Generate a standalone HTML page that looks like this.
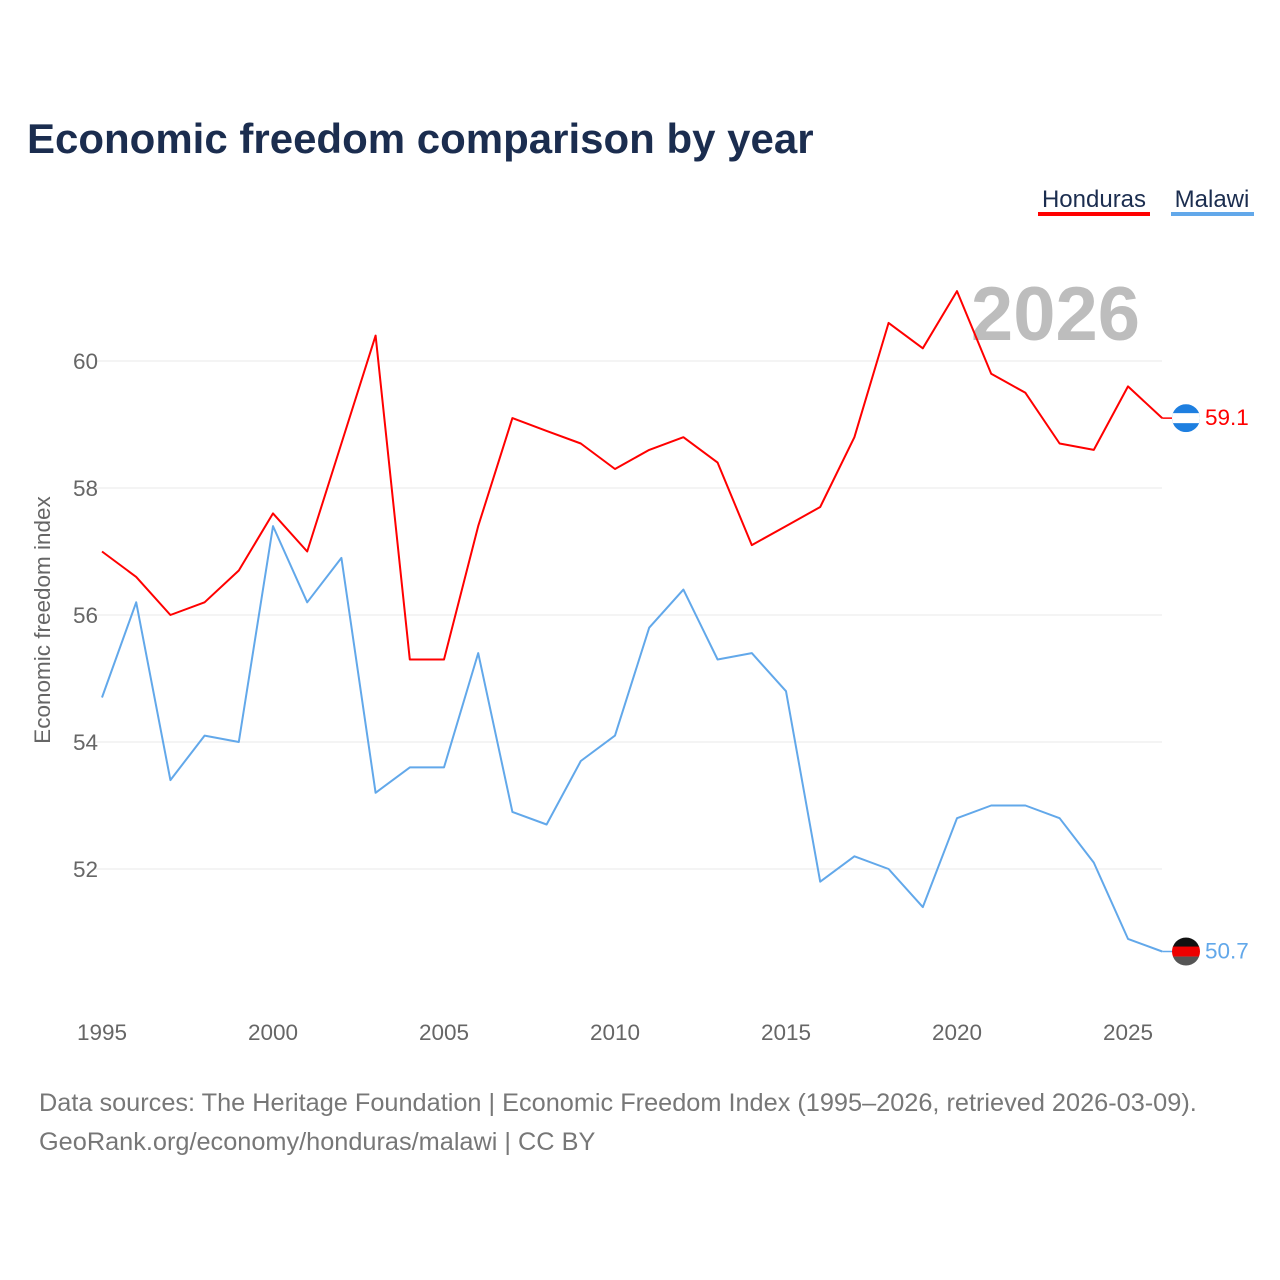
<!DOCTYPE html>
<html><head><meta charset="utf-8">
<style>
body{margin:0;background:#fff;font-family:"Liberation Sans",sans-serif;}
#wrap{position:relative;width:1280px;height:1280px;overflow:hidden;background:#fff}
</style></head><body>
<div id="wrap">
<svg id="chart" width="1280" height="1280"></svg>
</div>
<script>
const years=[1995,1996,1997,1998,1999,2000,2001,2002,2003,2004,2005,2006,2007,2008,2009,2010,2011,2012,2013,2014,2015,2016,2017,2018,2019,2020,2021,2022,2023,2024,2025,2026];
const honduras=[57.0,56.6,56.0,56.2,56.7,57.6,57.0,58.7,60.4,55.3,55.3,57.4,59.1,58.9,58.7,58.3,58.6,58.8,58.4,57.1,57.4,57.7,58.8,60.6,60.2,61.1,59.8,59.5,58.7,58.6,59.6,59.1];
const malawi=[54.7,56.2,53.4,54.1,54.0,57.4,56.2,56.9,53.2,53.6,53.6,55.4,52.9,52.7,53.7,54.1,55.8,56.4,55.3,55.4,54.8,51.8,52.2,52.0,51.4,52.8,53.0,53.0,52.8,52.1,50.9,50.7];
const yTicks=[52,54,56,58,60];
const xTicks=[1995,2000,2005,2010,2015,2020,2025];

const NS="http://www.w3.org/2000/svg";
const svg=document.getElementById('chart');
function X(y){return 102+(y-1995)*(1026/30);}
function Y(v){return 869-(v-52)*(508/8);}
function mk(tag,attrs,parent){const e=document.createElementNS(NS,tag);for(const k in attrs)e.setAttribute(k,attrs[k]);(parent||svg).appendChild(e);return e;}
function txt(s,attrs){const t=mk('text',attrs);t.textContent=s;return t;}

let t=txt('Economic freedom comparison by year',{x:27,y:153,'font-size':42,'font-weight':'bold',fill:'#1b2d4f'});



yTicks.forEach(v=>{
  const l=mk('line',{x1:95,x2:1162,y1:Y(v),y2:Y(v),stroke:'#e8e8e8','stroke-width':1});
  
  
  const tt=txt(String(v),{x:98,y:Y(v)+8,'font-size':22.5,fill:'#666','text-anchor':'end'});
  
  
});
xTicks.forEach(v=>{
  const tt=txt(String(v),{x:X(v),y:1040,'font-size':22.5,fill:'#666','text-anchor':'middle'});
  
  
});
t=txt('Economic freedom index',{x:0,y:0,'font-size':22.5,fill:'#666','text-anchor':'middle',transform:'translate(50,620) rotate(-90)'});



t=txt('2026',{x:1140,y:340,'font-size':76,'font-weight':'bold',fill:'#bdbdbd','text-anchor':'end'});



function series(vals,color,name){
  const d=vals.map((v,i)=>(i?'L':'M')+X(years[i]).toFixed(1)+','+Y(v).toFixed(1)).join(' ');
  const p=mk('path',{d:d,fill:'none',stroke:color,'stroke-width':2,'stroke-linejoin':'round'});
  
  
  const last=vals[vals.length-1];
  const ly=Y(last);
  const lx=X(years[years.length-1]);
  mk('line',{x1:lx,x2:1180,y1:ly,y2:ly,stroke:color,'stroke-width':1.5});
  const tl=txt(last.toFixed(1),{x:1205,y:ly+7,'font-size':22.5,fill:color});
  
  
  return ly;
}
const hy=series(honduras,'#ff0000','honduras');
const my=series(malawi,'#62a8ea','malawi');

const defs=mk('defs',{});
const c1=mk('clipPath',{id:'c1'},defs);mk('circle',{cx:1186,cy:hy,r:14},c1);
const c2=mk('clipPath',{id:'c2'},defs);mk('circle',{cx:1186,cy:my,r:14},c2);
const g1=mk('g',{'clip-path':'url(#c1)'});


mk('rect',{x:1172,y:hy-14,width:28,height:28,fill:'#1e7fe0'},g1);
mk('rect',{x:1172,y:hy-5,width:28,height:10,fill:'#fff'},g1);
const g2=mk('g',{'clip-path':'url(#c2)'});


mk('rect',{x:1172,y:my-14,width:28,height:10,fill:'#111'},g2);
mk('rect',{x:1172,y:my-5,width:28,height:10,fill:'#e00'},g2);
mk('rect',{x:1172,y:my+5,width:28,height:10,fill:'#555'},g2);

t=txt('Honduras',{x:1094,y:207,'font-size':24,fill:'#1b2d4f','text-anchor':'middle'});


mk('rect',{x:1038,y:212,width:112,height:4,fill:'#ff0000'});
t=txt('Malawi',{x:1212,y:207,'font-size':24,fill:'#1b2d4f','text-anchor':'middle'});


mk('rect',{x:1171,y:212,width:83,height:4,fill:'#62a8ea'});

t=txt('Data sources: The Heritage Foundation | Economic Freedom Index (1995–2026, retrieved 2026-03-09).',{x:39,y:1111,'font-size':25.3,fill:'#777'});


t=txt('GeoRank.org/economy/honduras/malawi | CC BY',{x:39,y:1150,'font-size':25.3,fill:'#777'});


</script>
</body></html>
